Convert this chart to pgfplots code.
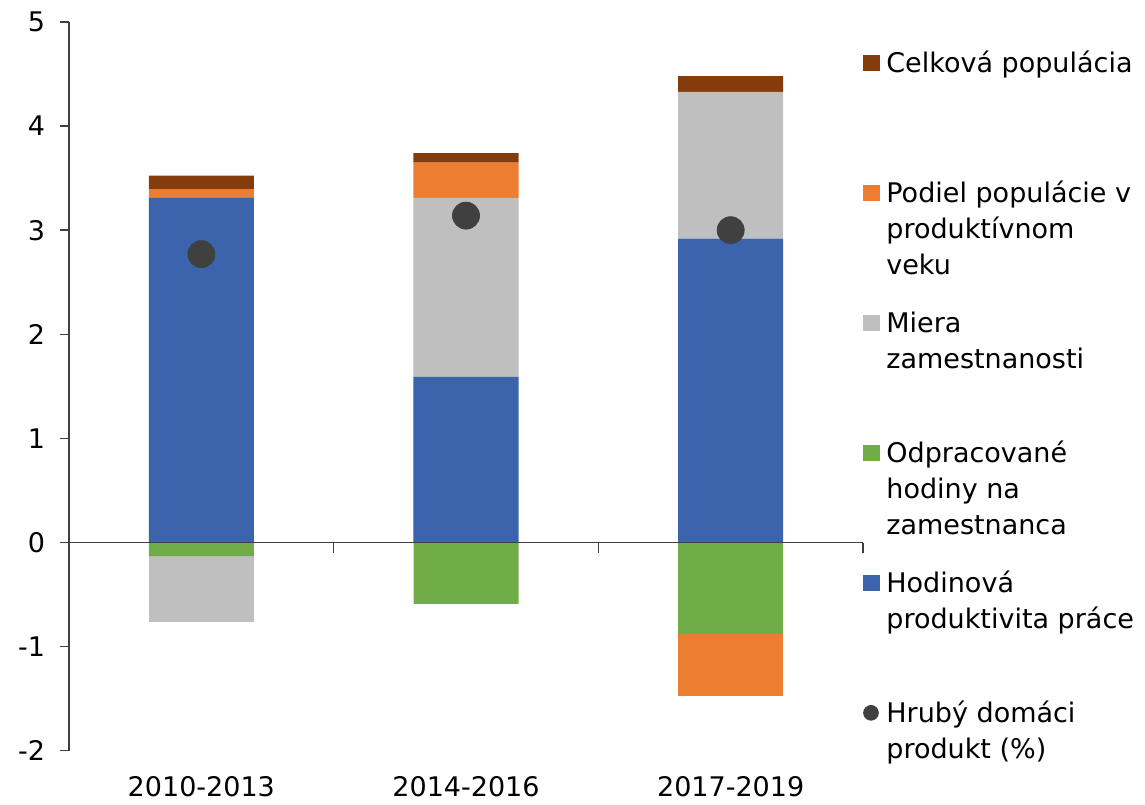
\documentclass[border=0pt]{standalone}
\usepackage{pgfplots}
\pgfplotsset{compat=1.18}
\usepackage{fontspec}
\setmainfont{DejaVu Sans}

\definecolor{cBlue}{HTML}{3B64AD}
\definecolor{cOrange}{HTML}{ED7D31}
\definecolor{cGrey}{HTML}{BFBFBF}
\definecolor{cGreen}{HTML}{70AD47}
\definecolor{cBrown}{HTML}{843C0C}
\definecolor{cDot}{HTML}{404040}
\definecolor{cAxis}{HTML}{404040}

% legend entry: first line aligned with the square
\newcommand{\LE}[1]{\begin{tabular}[t]{@{}l@{}}#1\end{tabular}}

\pgfplotsset{
  common/.style={
    scale only axis, width=397pt, height=364.35pt,
    xmin=-0.5, xmax=2.5, ymin=-2, ymax=5,
    /pgf/number format/assume math mode=true,
    tick label style={font=\fontsize{13.5}{18}\selectfont},
  },
  sq/.style={legend image code/.code={\fill[#1] (0pt,0.6pt) rectangle (8pt,8.5pt);}},
}

\begin{document}
\begin{tikzpicture}
\useasboundingbox (-34.5pt,-26.65pt) rectangle (538pt,375.35pt);

% positive parts of the stacks, y axis, category labels, legend
\begin{axis}[common,
  ybar stacked, bar width=52.5pt,
  axis y line*=left, axis x line*=bottom,
  x axis line style={draw=none},
  y axis line style={color=cAxis, line width=0.75pt},
  ytick={-2,-1,0,1,2,3,4,5},
  xtick={0,1,2}, xticklabels={2010-2013,2014-2016,2017-2019},
  major x tick style={draw=none},
  ytick style={color=cAxis, line width=0.75pt},
  tick align=outside, major tick length=4.5pt,
  yticklabel style={xshift=-4pt},
  xticklabel style={yshift=-5pt},
  legend cell align=left,
  legend style={at={(0.999,1)}, anchor=north west, yshift=-12.2pt,
    draw=none, fill=none, inner sep=0pt, column sep=3.5pt, row sep=0pt,
    font=\fontsize{13.5}{18}\selectfont,
    cells={anchor=base west},
    nodes={inner sep=0pt, text height=12.6pt, text depth=52.4pt}},
]
\addlegendimage{sq=cBrown}
\addlegendentry{\LE{Celková populácia}}
\addlegendimage{sq=cOrange}
\addlegendentry{\LE{Podiel populácie v\\produktívnom\\veku}}
\addlegendimage{sq=cGrey}
\addlegendentry{\LE{Miera\\zamestnanosti}}
\addlegendimage{sq=cGreen}
\addlegendentry{\LE{Odpracované\\hodiny na\\zamestnanca}}
\addlegendimage{sq=cBlue}
\addlegendentry{\LE{Hodinová\\produktivita práce}}
\addlegendimage{legend image code/.code={\fill[cDot] (4pt,4.6pt) circle (3.7pt);}}
\addlegendentry{\LE{Hrubý domáci\\produkt (\%)}}

\addplot[fill=cBlue, draw=none, forget plot] coordinates {(0,3.31) (1,1.59) (2,2.92)};
\addplot[fill=cGrey, draw=none, forget plot] coordinates {(0,0) (1,1.72) (2,1.41)};
\addplot[fill=cOrange, draw=none, forget plot] coordinates {(0,0.085) (1,0.34) (2,0)};
\addplot[fill=cBrown, draw=none, forget plot] coordinates {(0,0.13) (1,0.09) (2,0.15)};
\end{axis}

% negative parts of the stacks and the zero line
\begin{axis}[common,
  ybar stacked, bar width=52.5pt,
  axis on top,
  axis y line=none, axis x line=middle,
  x axis line style={-, color=cAxis, line width=0.75pt},
  xtick={0.5,1.5,2.5}, xticklabels={},
  xtick style={color=cAxis, line width=0.75pt},
  tick align=outside, major tick length=5pt,
]
\addplot[fill=cGreen, draw=none] coordinates {(0,-0.13) (1,-0.59) (2,-0.88)};
\addplot[fill=cGrey, draw=none] coordinates {(0,-0.63) (1,0) (2,0)};
\addplot[fill=cOrange, draw=none] coordinates {(0,0) (1,0) (2,-0.59)};
\end{axis}

% GDP growth
\begin{axis}[common, hide axis]
\addplot[only marks, mark=*, mark size=6.75pt, color=cDot] coordinates {(0,2.77) (1,3.14) (2,3.00)};
\end{axis}
\end{tikzpicture}
\end{document}
